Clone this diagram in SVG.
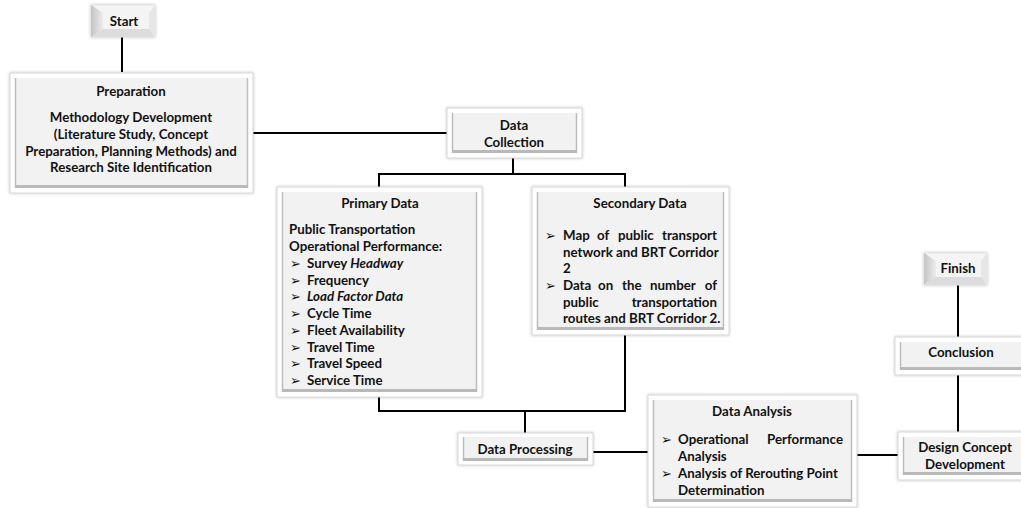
<svg xmlns="http://www.w3.org/2000/svg" width="1021" height="508" viewBox="0 0 1021 508">
<defs>
<filter id="sh" x="-10%" y="-10%" width="120%" height="120%">
<feGaussianBlur in="SourceAlpha" stdDeviation="1.5"/>
<feComponentTransfer><feFuncA type="linear" slope="0.25"/></feComponentTransfer>
<feMerge><feMergeNode/><feMergeNode in="SourceGraphic"/></feMerge>
</filter>
<linearGradient id="lf" x1="0" y1="0" x2="1" y2="0">
<stop offset="0" stop-color="#c4c4c4"/>
<stop offset="1" stop-color="#ececec"/>
</linearGradient>
</defs>
<style>
.o{fill:#ffffff;stroke:#d6d6d6;stroke-width:1}
.i{fill:#f2f2f2;stroke:none}
.el{stroke:#bdbdbd;stroke-width:1.5}
.eb{fill:#b9b9b9}
.t{font-family:Lato,"Liberation Sans",sans-serif;font-weight:bold;font-size:13.3px;fill:#111}
.c{text-anchor:middle}
.e{text-anchor:end}
.it{font-style:italic}
.bu{font-family:"DejaVu Sans",sans-serif;font-size:13px;fill:#111}
.cn{stroke:#000;stroke-width:2;fill:none}
</style>

<g id="connectors">
<line class="cn" x1="122" y1="37" x2="122" y2="72"/>
<line class="cn" x1="253" y1="133" x2="447" y2="133"/>
<polyline class="cn" points="513,158 513,174"/>
<polyline class="cn" points="379,187 379,174 625,174 625,187"/>
<polyline class="cn" points="379,397 379,411 625,411 625,335"/>
<line class="cn" x1="525" y1="411" x2="525" y2="433"/>
<line class="cn" x1="593" y1="452" x2="648" y2="452"/>
<line class="cn" x1="857" y1="455" x2="898" y2="455"/>
<line class="cn" x1="958" y1="285" x2="958" y2="337"/>
<line class="cn" x1="958" y1="375" x2="958" y2="432"/>
</g>

<g id="start">
<rect x="91" y="5" width="64" height="32" fill="#f4f4f4" stroke="#e0e0e0" filter="url(#sh)"/>
<polygon points="91,5 103,13 103,29 91,37" fill="url(#lf)"/>
<polygon points="91,37 103,29 149,29 155,37" fill="#dcdcdc"/>
<polygon points="155,5 149,13 149,29 155,37" fill="#e6e6e6"/>
<rect x="103" y="13" width="46" height="16" fill="#f4f4f4"/>
<text class="t c" x="124" y="26" font-size="14">Start</text>
</g>

<g id="preparation">
<rect class="o" x="10" y="73" width="243" height="120" filter="url(#sh)"/>
<rect class="i" x="15" y="78" width="233" height="110"/>
<line class="el" x1="15.5" y1="78" x2="15.5" y2="188"/>
<line class="el" x1="247.5" y1="78" x2="247.5" y2="188"/>
<rect class="eb" x="15" y="185" width="233" height="3"/>
<text class="t c" x="131" y="96">Preparation</text>
<text class="t c" x="131" y="122">Methodology Development</text>
<text class="t c" x="131" y="139">(Literature Study, Concept</text>
<text class="t c" x="131" y="155.5">Preparation, Planning Methods) and</text>
<text class="t c" x="131" y="172">Research Site Identification</text>
</g>

<g id="data-collection">
<rect class="o" x="447" y="108" width="135" height="50" filter="url(#sh)"/>
<rect class="i" x="452" y="113" width="125" height="40"/>
<line class="el" x1="452.5" y1="113" x2="452.5" y2="153"/>
<line class="el" x1="576.5" y1="113" x2="576.5" y2="153"/>
<rect class="eb" x="452" y="150" width="125" height="3"/>
<text class="t c" x="514" y="130">Data</text>
<text class="t c" x="514" y="147">Collection</text>
</g>

<g id="primary-data">
<rect class="o" x="277" y="187" width="205" height="210" filter="url(#sh)"/>
<rect class="i" x="282" y="192" width="195" height="200"/>
<line class="el" x1="282.5" y1="192" x2="282.5" y2="392"/>
<line class="el" x1="476.5" y1="192" x2="476.5" y2="392"/>
<rect class="eb" x="282" y="389" width="195" height="3"/>
<text class="t c" x="380" y="208">Primary Data</text>
<text class="t" x="289" y="234">Public Transportation</text>
<text class="t" x="289" y="251">Operational Performance:</text>
<text class="bu" x="290" y="268">➢</text><text class="t" x="307" y="268">Survey <tspan class="it">Headway</tspan></text>
<text class="bu" x="290" y="284.5">➢</text><text class="t" x="307" y="284.5">Frequency</text>
<text class="bu" x="290" y="301">➢</text><text class="t it" x="307" y="301">Load Factor Data</text>
<text class="bu" x="290" y="318">➢</text><text class="t" x="307" y="318">Cycle Time</text>
<text class="bu" x="290" y="335">➢</text><text class="t" x="307" y="335">Fleet Availability</text>
<text class="bu" x="290" y="351.5">➢</text><text class="t" x="307" y="351.5">Travel Time</text>
<text class="bu" x="290" y="368">➢</text><text class="t" x="307" y="368">Travel Speed</text>
<text class="bu" x="290" y="385">➢</text><text class="t" x="307" y="385">Service Time</text>
</g>

<g id="secondary-data">
<rect class="o" x="532" y="187" width="197" height="148" filter="url(#sh)"/>
<rect class="i" x="537" y="192" width="187" height="138"/>
<line class="el" x1="537.5" y1="192" x2="537.5" y2="330"/>
<line class="el" x1="723.5" y1="192" x2="723.5" y2="330"/>
<rect class="eb" x="537" y="327" width="187" height="3"/>
<text class="t c" x="640" y="208">Secondary Data</text>
<text class="bu" x="545" y="240">➢</text>
<text class="t" y="240"><tspan x="563">Map</tspan><tspan x="597">of</tspan><tspan x="618">public</tspan></text>
<text class="t e" x="717" y="240">transport</text>
<text class="t" x="563" y="256.5">network and BRT Corridor</text>
<text class="t" x="563" y="273">2</text>
<text class="bu" x="545" y="290">➢</text>
<text class="t" y="290"><tspan x="563">Data</tspan><tspan x="598">on</tspan><tspan x="622">the</tspan><tspan x="650">number</tspan></text>
<text class="t e" x="717" y="290">of</text>
<text class="t" x="563" y="306.5">public</text>
<text class="t e" x="717" y="306.5">transportation</text>
<text class="t" x="563" y="323">routes and BRT Corridor 2.</text>
</g>

<g id="data-processing">
<rect class="o" x="458" y="433" width="135" height="32" filter="url(#sh)"/>
<rect class="i" x="463" y="437" width="125" height="24"/>
<line class="el" x1="463.5" y1="437" x2="463.5" y2="461"/>
<line class="el" x1="587.5" y1="437" x2="587.5" y2="461"/>
<rect class="eb" x="463" y="458" width="125" height="3"/>
<text class="t c" x="525" y="454">Data Processing</text>
</g>

<g id="data-analysis">
<rect class="o" x="648" y="395" width="209" height="112" filter="url(#sh)"/>
<rect class="i" x="653" y="400" width="199" height="102"/>
<line class="el" x1="653.5" y1="400" x2="653.5" y2="502"/>
<line class="el" x1="851.5" y1="400" x2="851.5" y2="502"/>
<rect class="eb" x="653" y="499" width="199" height="3"/>
<text class="t c" x="752" y="416">Data Analysis</text>
<text class="bu" x="661" y="444">➢</text>
<text class="t" x="678" y="444">Operational</text>
<text class="t e" x="843" y="444">Performance</text>
<text class="t" x="678" y="461">Analysis</text>
<text class="bu" x="661" y="477.5">➢</text>
<text class="t" x="678" y="477.5">Analysis of Rerouting Point</text>
<text class="t" x="678" y="494.5">Determination</text>
</g>

<g id="finish">
<rect x="924" y="253" width="63" height="32" fill="#f4f4f4" stroke="#e0e0e0" filter="url(#sh)"/>
<polygon points="924,253 936,261 936,277 924,285" fill="url(#lf)"/>
<polygon points="924,285 936,277 981,277 987,285" fill="#dcdcdc"/>
<polygon points="987,253 981,261 981,277 987,285" fill="#e6e6e6"/>
<rect x="936" y="261" width="45" height="16" fill="#f4f4f4"/>
<text class="t c" x="958" y="273" font-size="14">Finish</text>
</g>

<g id="conclusion">
<rect class="o" x="895" y="337" width="131" height="38" filter="url(#sh)"/>
<rect class="i" x="900" y="342" width="126" height="28"/>
<line class="el" x1="900.5" y1="342" x2="900.5" y2="370"/>
<rect class="eb" x="900" y="367" width="126" height="3"/>
<text class="t c" x="961" y="357">Conclusion</text>
</g>

<g id="design-concept">
<rect class="o" x="898" y="432" width="128" height="48" filter="url(#sh)"/>
<rect class="i" x="903" y="437" width="123" height="38"/>
<line class="el" x1="903.5" y1="437" x2="903.5" y2="475"/>
<rect class="eb" x="903" y="472" width="123" height="3"/>
<text class="t c" x="965" y="452">Design Concept</text>
<text class="t c" x="965" y="469">Development</text>
</g>
</svg>
